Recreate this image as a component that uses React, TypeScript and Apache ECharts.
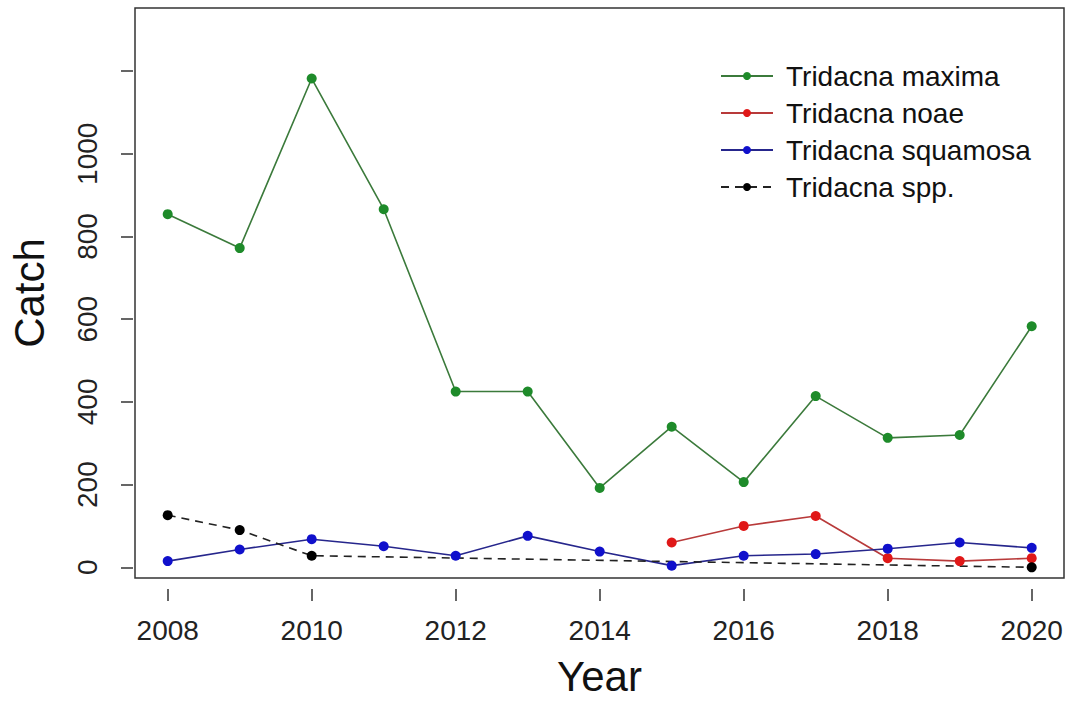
import React, { useEffect, useRef } from "react";
import * as echarts from "echarts";

// Annual giant clam catch by species
const years = [2008, 2009, 2010, 2011, 2012, 2013, 2014, 2015, 2016, 2017, 2018, 2019, 2020];
const maxima = [854, 772, 1182, 866, 425, 425, 192, 340, 206, 414, 313, 320, 583];
const noae: (number | null)[] = [null, null, null, null, null, null, null, 60, 100, 124, 22, 15, 22];
const squamosa = [15, 43, 68, 51, 28, 76, 38, 4, 28, 32, 45, 60, 47];
const spp: (number | null)[] = [126, 90, 28, null, null, null, null, null, null, null, null, null, 0];

const xTicks = { min: 2008, max: 2020, step: 2 };
const yTicks = { min: 0, max: 1200, step: 200, hidden: [1200] };

const FONT = "'Liberation Sans', Arial, Helvetica, sans-serif";

function pairs(values: (number | null)[]) {
  const out: [number, number][] = [];
  values.forEach((v, i) => {
    if (v !== null) out.push([years[i], v]);
  });
  return out;
}

const hiddenAxis = {
  type: "value",
  min: 0,
  max: 1,
  axisLine: { show: false },
  axisTick: { show: false },
  axisLabel: { show: false },
  splitLine: { show: false },
};

export default function App() {
  const ref = useRef<HTMLDivElement>(null);

  useEffect(() => {
    if (!ref.current) return;
    const chart = echarts.init(ref.current, null, { renderer: "svg" });

    const lineSeries = (
      name: string,
      values: (number | null)[],
      lineColor: string,
      pointColor: string,
      dashed = false
    ) => ({
      name,
      type: "line",
      xAxisIndex: 1,
      yAxisIndex: 1,
      data: pairs(values),
      symbol: "circle",
      symbolSize: 10,
      clip: false,
      lineStyle: { color: lineColor, width: 1.6, type: dashed ? [8, 6] : "solid" },
      itemStyle: { color: pointColor },
    });

    const tickStyle = { show: true, length: 12, lineStyle: { color: "#333333", width: 1.5 } };

    chart.setOption({
      animation: false,
      backgroundColor: "#ffffff",
      textStyle: { fontFamily: FONT },
      grid: [
        // frame around the plotting region
        {
          left: 133,
          top: 8,
          right: 3,
          bottom: 113,
          show: true,
          borderColor: "#333333",
          borderWidth: 1.5,
          backgroundColor: "transparent",
        },
        // data region: 2008–2020 by 0–1200
        { left: 167.7, right: 35.3, top: 71.1, bottom: 134.7 },
        // year ticks along the frame's bottom edge
        { left: 167.7, right: 35.3, top: 8, bottom: 113 },
      ],
      xAxis: [
        {
          ...hiddenAxis,
          gridIndex: 0,
          name: "Year",
          nameLocation: "middle",
          nameGap: 77,
          nameTextStyle: { fontSize: 42, color: "#111111", fontFamily: FONT },
        },
        {
          gridIndex: 1,
          type: "value",
          min: xTicks.min,
          max: xTicks.max,
          show: false,
        },
        {
          gridIndex: 2,
          type: "value",
          position: "bottom",
          min: xTicks.min,
          max: xTicks.max,
          interval: xTicks.step,
          axisLine: { show: false, onZero: false },
          axisTick: tickStyle,
          axisLabel: {
            fontSize: 28,
            color: "#222222",
            margin: 27,
            fontFamily: FONT,
            formatter: (v: number) => String(v),
          },
          splitLine: { show: false },
        },
      ],
      yAxis: [
        {
          ...hiddenAxis,
          gridIndex: 0,
          name: "Catch",
          nameLocation: "middle",
          nameRotate: 90,
          nameGap: 85,
          nameTextStyle: { fontSize: 42, color: "#111111", fontFamily: FONT },
        },
        {
          gridIndex: 1,
          type: "value",
          position: "left",
          min: yTicks.min,
          max: yTicks.max,
          interval: yTicks.step,
          offset: 34.7,
          axisLine: { show: false, onZero: false },
          axisTick: tickStyle,
          axisLabel: {
            fontSize: 28,
            color: "#222222",
            rotate: 90,
            margin: 32,
            fontFamily: FONT,
            formatter: (v: number) => (yTicks.hidden.includes(v) ? "" : String(v)),
          },
          splitLine: { show: false },
        },
        { ...hiddenAxis, gridIndex: 2 },
      ],
      legend: {
        orient: "vertical",
        left: 715,
        top: 57,
        itemWidth: 52,
        itemHeight: 10,
        itemGap: 9,
        textStyle: {
          fontSize: 28,
          lineHeight: 28,
          color: "#111111",
          fontFamily: FONT,
          padding: [0, 0, 0, 8],
        },
        data: ["Tridacna maxima", "Tridacna noae", "Tridacna squamosa", "Tridacna spp."],
      },
      series: [
        lineSeries("Tridacna maxima", maxima, "#3b7a3b", "#1e8b2a"),
        lineSeries("Tridacna noae", noae, "#b83a3a", "#e01818"),
        lineSeries("Tridacna squamosa", squamosa, "#26268c", "#1010cc"),
        lineSeries("Tridacna spp.", spp, "#222222", "#000000", true),
      ],
    });

    return () => chart.dispose();
  }, []);

  return (
    <div
      ref={ref}
      style={{ position: "fixed", left: 0, top: 0, width: 1067, height: 702, background: "#ffffff" }}
    />
  );
}
